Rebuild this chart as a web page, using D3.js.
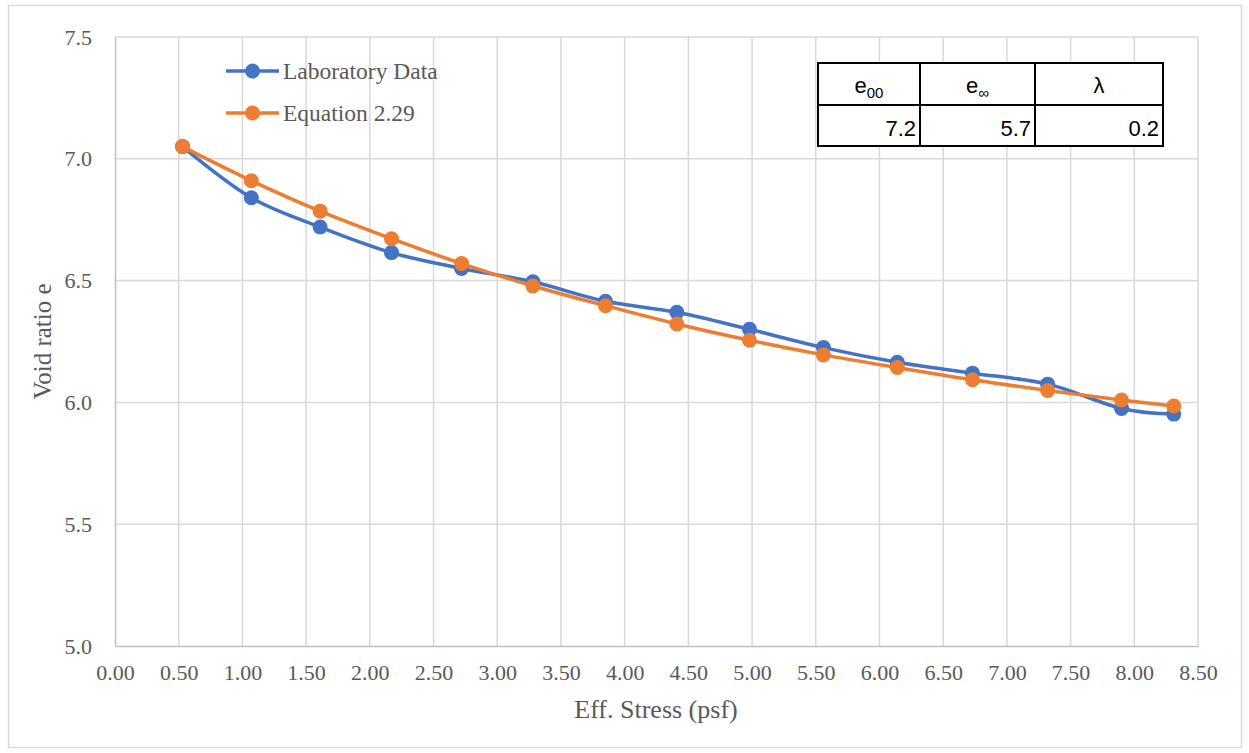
<!DOCTYPE html>
<html>
<head>
<meta charset="utf-8">
<script src="https://cdn.jsdelivr.net/npm/d3@7"></script>
<style>
  html, body { margin: 0; padding: 0; background: #fff; }
  svg { display: block; }
</style>
</head>
<body>
<svg id="chart" width="1249" height="753"></svg>
<script>
// Effective stress (psf) at each load step
const stress = [0.53, 1.07, 1.61, 2.17, 2.72, 3.28, 3.85, 4.41, 4.98, 5.56, 6.14, 6.73, 7.32, 7.90, 8.31];
// Measured void ratio
const labData = [7.05, 6.84, 6.72, 6.615, 6.55, 6.495, 6.415, 6.37, 6.30, 6.225, 6.165, 6.12, 6.075, 5.975, 5.952];
// Void ratio from Equation 2.29
const eqData = [7.05, 6.91, 6.785, 6.672, 6.57, 6.478, 6.397, 6.322, 6.255, 6.195, 6.143, 6.093, 6.049, 6.01, 5.985];

const xTicks = [0, 0.5, 1, 1.5, 2, 2.5, 3, 3.5, 4, 4.5, 5, 5.5, 6, 6.5, 7, 7.5, 8, 8.5];
const yTicks = [5.0, 5.5, 6.0, 6.5, 7.0, 7.5];

const seriesNames = ["Laboratory Data", "Equation 2.29"];
const seriesColors = ["#4472C4", "#ED7D31"];

const tableHeaders = ["e00", "e\u221E", "\u03BB"];
const tableValues = ["7.2", "5.7", "0.2"];

const svg = d3.select("#chart");
const plot = { left: 115, right: 1198, top: 37, bottom: 646 };

// Outer chart frame
svg.append("rect")
  .attr("x", 8.5).attr("y", 5.5).attr("width", 1233).attr("height", 742)
  .attr("fill", "#fff").attr("stroke", "#d9d9d9").attr("stroke-width", 1.5);

const x = d3.scaleLinear().domain([0, 8.5]).range([plot.left, plot.right]);
const y = d3.scaleLinear().domain([5, 7.5]).range([plot.bottom, plot.top]);

const serif = "'Liberation Serif', 'Times New Roman', serif";
const textColor = "#595959";

// Gridlines
const grid = svg.append("g");
grid.selectAll("line.v").data(xTicks.slice(1)).join("line")
  .attr("x1", d => x(d)).attr("x2", d => x(d))
  .attr("y1", plot.top).attr("y2", plot.bottom)
  .attr("stroke", "#d9d9d9").attr("stroke-width", 1.5);
grid.selectAll("line.h").data(yTicks.slice(1)).join("line")
  .attr("x1", plot.left).attr("x2", plot.right)
  .attr("y1", d => y(d)).attr("y2", d => y(d))
  .attr("stroke", "#d9d9d9").attr("stroke-width", 1.5);

// Axes
const tickSize = 22;
const xAxis = svg.append("g")
  .attr("transform", `translate(0,${plot.bottom})`)
  .call(d3.axisBottom(x).tickValues(xTicks).tickFormat(d3.format(".2f")).tickSize(0).tickPadding(18));
const yAxis = svg.append("g")
  .attr("transform", `translate(${plot.left},0)`)
  .call(d3.axisLeft(y).tickValues(yTicks).tickFormat(d3.format(".1f")).tickSize(0).tickPadding(23));

[xAxis, yAxis].forEach(g => {
  g.select(".domain").attr("stroke", "#bfbfbf").attr("stroke-width", 1.5);
  g.selectAll("text").attr("font-family", serif).attr("font-size", tickSize).attr("fill", textColor);
});

// Axis titles
svg.append("text")
  .attr("x", 656).attr("y", 718)
  .attr("text-anchor", "middle")
  .attr("font-family", serif).attr("font-size", 26).attr("fill", textColor)
  .text("Eff. Stress (psf)");
svg.append("text")
  .attr("transform", `translate(51,${(plot.top + plot.bottom) / 2}) rotate(-90)`)
  .attr("text-anchor", "middle")
  .attr("font-family", serif).attr("font-size", 25).attr("fill", textColor)
  .text("Void ratio e");

// Series
const markerR = 7.5, lineW = 3.5;
const line = d3.line().x(d => x(d[0])).y(d => y(d[1])).curve(d3.curveCatmullRom.alpha(0));
const allSeries = [labData, eqData];
allSeries.forEach((vals, i) => {
  const pts = stress.map((s, j) => [s, vals[j]]);
  const g = svg.append("g");
  g.append("path").datum(pts)
    .attr("d", line).attr("fill", "none")
    .attr("stroke", seriesColors[i]).attr("stroke-width", lineW).attr("stroke-linejoin", "round");
  g.selectAll("circle").data(pts).join("circle")
    .attr("cx", d => x(d[0])).attr("cy", d => y(d[1])).attr("r", markerR)
    .attr("fill", seriesColors[i]);
});

// Legend
const legend = svg.append("g");
seriesNames.forEach((name, i) => {
  const ly = 71 + i * 42;
  legend.append("line")
    .attr("x1", 226).attr("x2", 279).attr("y1", ly).attr("y2", ly)
    .attr("stroke", seriesColors[i]).attr("stroke-width", lineW);
  legend.append("circle").attr("cx", 252.5).attr("cy", ly).attr("r", markerR).attr("fill", seriesColors[i]);
  legend.append("text")
    .attr("x", 283).attr("y", ly + 7.5)
    .attr("font-family", serif).attr("font-size", 23.5).attr("fill", textColor)
    .text(name);
});

// Parameter table
const sans = "'Liberation Sans', Arial, sans-serif";
const colEdges = [818, 920, 1035, 1163];
const rowEdges = [63, 105, 146];
const tbl = svg.append("g");
tbl.append("rect")
  .attr("x", colEdges[0]).attr("y", rowEdges[0])
  .attr("width", colEdges[3] - colEdges[0]).attr("height", rowEdges[2] - rowEdges[0])
  .attr("fill", "#fff");
colEdges.forEach(cx => tbl.append("line")
  .attr("x1", cx).attr("x2", cx).attr("y1", rowEdges[0]).attr("y2", rowEdges[2])
  .attr("stroke", "#000").attr("stroke-width", 2));
rowEdges.forEach(ry => tbl.append("line")
  .attr("x1", colEdges[0] - 1).attr("x2", colEdges[3] + 1).attr("y1", ry).attr("y2", ry)
  .attr("stroke", "#000").attr("stroke-width", 2));

tableHeaders.forEach((h, i) => {
  const cx = (colEdges[i] + colEdges[i + 1]) / 2;
  const t = tbl.append("text")
    .attr("x", cx).attr("y", 93)
    .attr("text-anchor", "middle")
    .attr("font-family", sans).attr("font-size", 22).attr("fill", "#000");
  if (h.length > 1 && h[0] === "e") {
    t.append("tspan").text("e");
    t.append("tspan").attr("font-size", 15).attr("dy", 5).text(h.slice(1));
  } else {
    t.text(h);
  }
});
tableValues.forEach((v, i) => {
  tbl.append("text")
    .attr("x", colEdges[i + 1] - 4).attr("y", 136)
    .attr("text-anchor", "end")
    .attr("font-family", sans).attr("font-size", 22).attr("fill", "#000")
    .text(v);
});
</script>
</body>
</html>
